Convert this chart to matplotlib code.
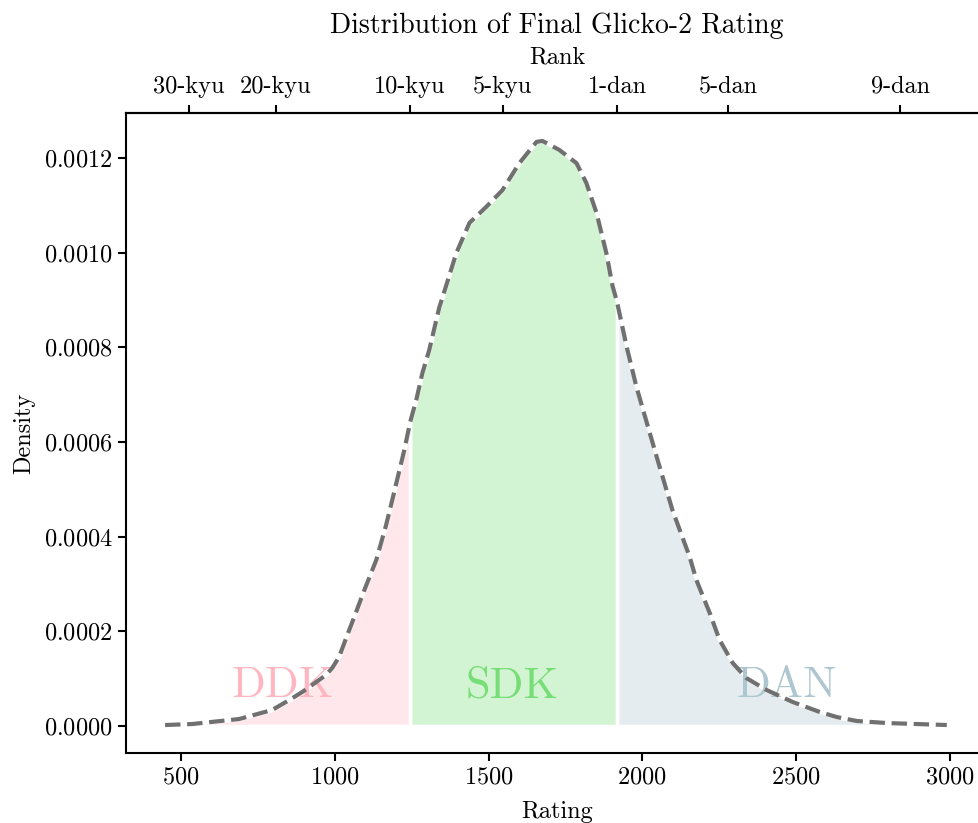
import numpy as np
import matplotlib
matplotlib.use("Agg")
import matplotlib.pyplot as plt
from matplotlib.colors import to_rgba

plt.rcParams['font.family'] = 'serif'
plt.rcParams['font.serif'] = ['cmr10']
plt.rcParams['mathtext.fontset'] = 'cm'
plt.rcParams['axes.formatter.use_mathtext'] = True

# KDE of final ratings
rating = [448, 536, 689, 796, 852, 894, 926, 972, 992, 1014, 1037, 1063, 1096,
          1135, 1167, 1187, 1226, 1245, 1265, 1285, 1307, 1340, 1350, 1395, 1438,
          1493, 1545, 1600, 1656, 1675, 1730, 1786, 1818, 1851, 1883, 1903, 1918,
          1949, 1981, 2046, 2098, 2154, 2176, 2219, 2251, 2294, 2339, 2404, 2489,
          2577, 2632, 2697, 2795, 2990]
density = [0.0000021, 0.0000042, 0.0000148, 0.0000338, 0.0000549, 0.0000718,
           0.0000866, 0.000108, 0.000123, 0.000146, 0.000186, 0.000230, 0.000287,
           0.000351, 0.000425, 0.000478, 0.000583, 0.000642, 0.000689, 0.000746,
           0.000794, 0.000885, 0.000905, 0.000999, 0.001063, 0.001097, 0.001132,
           0.001189, 0.001234, 0.001236, 0.001217, 0.001189, 0.001147, 0.001084,
           0.000999, 0.000930, 0.000895, 0.000801, 0.000716, 0.000570, 0.000456,
           0.000357, 0.000308, 0.000239, 0.000182, 0.000133, 0.000101, 0.0000761,
           0.0000507, 0.0000296, 0.000019, 0.0000106, 0.0000063, 0.0000021]

rank_labels = ['30-kyu', '20-kyu', '10-kyu', '5-kyu', '1-dan', '5-dan', '9-dan']
rank_ratings = [525, 809, 1245, 1546, 1918, 2280, 2839]

groups = ['DDK', 'SDK', 'DAN']
group_bounds = [(448, 1245), (1245, 1918), (1918, 2990)]
group_colors = ['#ffb6c1', '#77dd77', '#aec6cf']
group_text_x = [832, 1577, 2469]

x = np.array(rating)
y = np.array(density)

fig = plt.figure(figsize=(9.79, 8.23), dpi=100)
ax = fig.add_axes([126 / 979, 70 / 823, (988 - 126) / 979, 640 / 823])

for name, (lo, hi), col, tx in zip(groups, group_bounds, group_colors, group_text_x):
    m = (x >= lo) & (x <= hi)
    ax.fill_between(x[m], 0, y[m], facecolor=to_rgba(col, 0.32), edgecolor='white',
                    linewidth=2.6, zorder=1)
    ax.text(tx, 0.0000845, name, color=col, fontsize=32, ha='center', va='center',
            zorder=2)

ax.plot(x, y, color='#707070', linestyle='--', linewidth=3, zorder=3)

ax.set_xlim(321, 3124)
ax.set_ylim(-0.0000570, 0.001295)
ax.set_xlabel('Rating', fontsize=17.5, labelpad=9)
ax.set_ylabel('Density', fontsize=17.5, labelpad=6)
ax.tick_params(labelsize=17.5, width=1.5, length=6)
ax.spines['right'].set_visible(False)
for s in ['left', 'bottom', 'top']:
    ax.spines[s].set_linewidth(1.5)

secax = ax.secondary_xaxis('top')
secax.set_xticks(rank_ratings)
secax.set_xticklabels(rank_labels)
secax.tick_params(labelsize=17.5, width=1.5, length=6, pad=5)
secax.set_xlabel('Rank', fontsize=17.5, labelpad=9)
secax.spines['top'].set_linewidth(1.5)

fig.text(557 / 979, 1 - 33 / 823, 'Distribution of Final Glicko-2 Rating',
         fontsize=20, ha='center', va='baseline')

fig.savefig('out.png', dpi=100)
